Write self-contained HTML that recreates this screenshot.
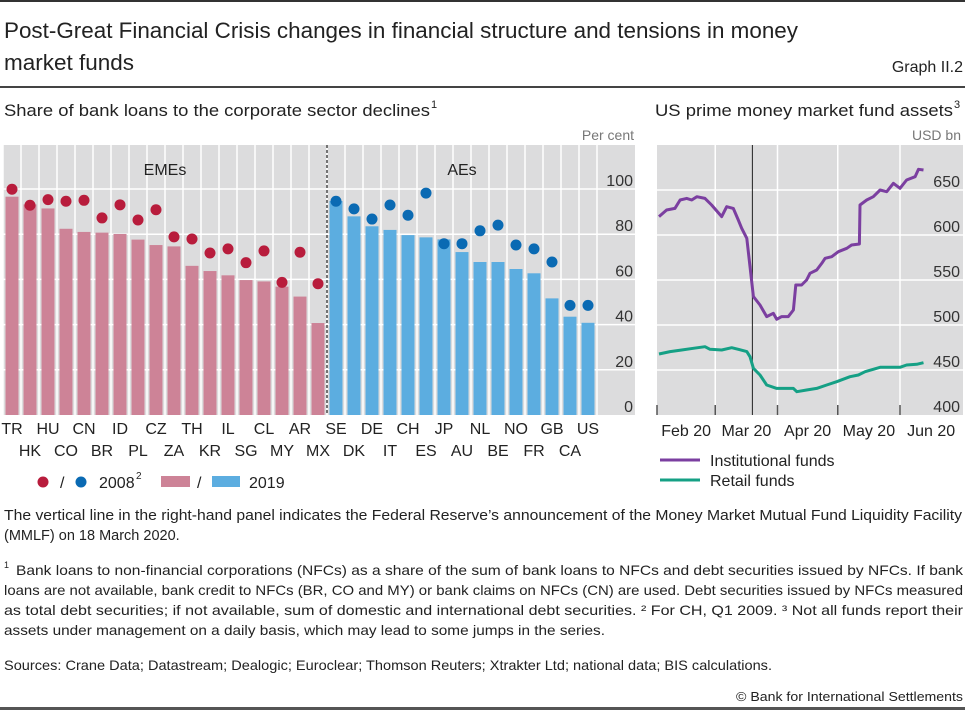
<!DOCTYPE html>
<html><head><meta charset="utf-8"><style>
body{margin:0;background:#fff;}
svg{display:block;font-family:"Liberation Sans",sans-serif;}
</style></head><body>
<svg id="s" width="965" height="711" viewBox="0 0 965 711" xmlns="http://www.w3.org/2000/svg">
<rect x="0" y="0" width="965" height="2" fill="#333"/>
<text x="4" y="38" font-size="22" fill="#222" textLength="794" lengthAdjust="spacingAndGlyphs">Post-Great Financial Crisis changes in financial structure and tensions in money</text>
<text x="4" y="70" font-size="22" fill="#222" textLength="130" lengthAdjust="spacingAndGlyphs">market funds</text>
<text x="963" y="72" font-size="16" fill="#222" text-anchor="end">Graph II.2</text>
<rect x="0" y="86" width="965" height="2" fill="#444"/>
<text x="4" y="116" font-size="17" fill="#222" textLength="426" lengthAdjust="spacingAndGlyphs">Share of bank loans to the corporate sector declines</text>
<text x="431" y="108" font-size="11" fill="#222">1</text>
<text x="655" y="116" font-size="17" fill="#222" textLength="298" lengthAdjust="spacingAndGlyphs">US prime money market fund assets</text>
<text x="954" y="108" font-size="11" fill="#222">3</text>
<text x="634" y="140" font-size="14" fill="#777" text-anchor="end">Per cent</text>
<text x="961" y="140" font-size="14" fill="#777" text-anchor="end">USD bn</text>
<g id="left"></g>
<g id="right"></g>
<g>
<circle cx="43" cy="482" r="5.5" fill="#b81c3c"/>
<text x="60" y="488" font-size="16" fill="#222">/</text>
<circle cx="81" cy="482" r="5.5" fill="#0a6ab3"/>
<text x="99" y="488" font-size="16" fill="#222">2008</text>
<text x="136" y="479" font-size="10" fill="#222">2</text>
<rect x="161" y="476" width="29" height="11" fill="#cd8397"/>
<text x="197" y="488" font-size="16" fill="#222">/</text>
<rect x="212" y="476" width="28" height="11" fill="#5cade0"/>
<text x="249" y="488" font-size="16" fill="#222">2019</text>
</g>
<g>
<line x1="660" y1="460" x2="700" y2="460" stroke="#7b3fa0" stroke-width="3"/>
<text x="710" y="466" font-size="16" fill="#222">Institutional funds</text>
<line x1="660" y1="480" x2="700" y2="480" stroke="#15a085" stroke-width="3"/>
<text x="710" y="486" font-size="16" fill="#222">Retail funds</text>
</g>
<g font-size="14.5" fill="#222">
<text x="4" y="520" textLength="958" lengthAdjust="spacingAndGlyphs">The vertical line in the right-hand panel indicates the Federal Reserve’s announcement of the Money Market Mutual Fund Liquidity Facility</text>
<text x="4" y="540">(MMLF) on 18 March 2020.</text>
</g>
<g font-size="14" fill="#222">
<text x="4" y="568" font-size="9">1</text>
<text x="16" y="575" textLength="947" lengthAdjust="spacingAndGlyphs">Bank loans to non-financial corporations (NFCs) as a share of the sum of bank loans to NFCs and debt securities issued by NFCs. If bank</text>
<text x="4" y="595" textLength="959" lengthAdjust="spacingAndGlyphs">loans are not available, bank credit to NFCs (BR, CO and MY) or bank claims on NFCs (CN) are used. Debt securities issued by NFCs measured</text>
<text x="4" y="615" textLength="959" lengthAdjust="spacingAndGlyphs">as total debt securities; if not available, sum of domestic and international debt securities.    ²  For CH, Q1 2009.    ³  Not all funds report their</text>
<text x="4" y="635" textLength="601" lengthAdjust="spacingAndGlyphs">assets under management on a daily basis, which may lead to some jumps in the series.</text>
<text x="4" y="670" textLength="768" lengthAdjust="spacingAndGlyphs">Sources: Crane Data; Datastream; Dealogic; Euroclear; Thomson Reuters; Xtrakter Ltd; national data; BIS calculations.</text>
<text x="963" y="701" text-anchor="end" font-size="13" textLength="227" lengthAdjust="spacingAndGlyphs">© Bank for International Settlements</text>
</g>
<rect x="0" y="707" width="965" height="3" fill="#555"/>
</svg>
<script>
const emeCats=["TR","HK","HU","CO","CN","BR","ID","PL","CZ","ZA","TH","KR","IL","SG","CL","MY","AR","MX"];
const eme2019=[96.6,93.2,91.4,82.4,81,80.7,80.1,77.6,75.2,74.6,66,63.7,61.8,59.7,59.1,56.8,52.4,40.7];
const eme2008=[99.9,92.8,95.3,94.6,95,87.2,93,86.3,90.8,78.8,77.9,71.7,73.5,67.4,72.6,58.7,72,58.1];
const aeCats=["SE","DK","DE","IT","CH","ES","JP","AU","NL","BE","NO","FR","GB","CA","US"];
const ae2019=[94.7,87.9,83.5,81.9,79.6,78.6,77.7,72.1,67.7,67.7,64.6,62.7,51.6,43.5,40.8];
const ae2008=[94.6,91.2,86.7,92.9,88.4,98.2,75.8,75.8,81.5,84,75.2,73.5,67.7,48.5,48.5];
const leftTicks=[0,20,40,60,80,100];
const instDays=[1,4.8,8.9,11.5,14.8,17.3,19.8,23.9,27.2,32.2,34.7,38,40.5,42.2,44.7,48,51.3,54.6,57.9,59.6,62.1,65.4,67.9,69.1,72,74.5,76.2,79.5,82,83.7,87,90.3,94.5,96.9,100.8,101.1,104.4,107.7,111.1,114.4,117.7,121,124.3,128.5,130.2,132.7];
const instVals=[620.4,627.8,629.6,638.9,640.7,638.9,642.6,640.7,633.3,620.4,631.5,629.6,616.7,607.4,596.3,531.5,522.2,509.3,513,506.3,509.3,509.3,516.7,544.4,544.4,550,557.4,561.1,568.5,574.1,575.9,581.5,585.2,588.9,590,633.3,638.9,642.6,650,648.1,657.4,651.9,661.1,664.8,673,672.2];
const retDays=[1,6.5,12.3,18.1,23.9,26.4,32.2,37.2,40.5,44.7,46.3,48,51.3,54.6,59.6,67.9,69.6,74.5,79.5,84.5,89.5,96.1,100.3,103.6,111.1,121,124.3,129.3,132.7];
const retVals=[467.8,470.4,472.2,474.1,475.9,473,472.2,474.8,473,470.4,464.8,451.9,444.4,433.3,429.6,429.6,425.9,427.8,429.6,433.3,437,442.6,444.4,448.1,453,453,455.6,456.3,458.1];
const rightTicks=[400,450,500,550,600,650];
const monthLabels=["Feb 20","Mar 20","Apr 20","May 20","Jun 20"];
const monthStarts=[0,29,60,90,121,152];
const eventDay=46;

const NS="http://www.w3.org/2000/svg";
function mk(p,t,a){const e=document.createElementNS(NS,t);for(const k in a)e.setAttribute(k,a[k]);p.appendChild(e);return e;}
const L=document.getElementById('left');
const ly=v=>415-v*2.26;
const slot=18,lx0=3;
let bg=mk(L,'rect',{x:3,y:145,width:632,height:270,fill:'#dcdcdd'});


leftTicks.forEach(t=>{
 if(t>0){const g=mk(L,'line',{x1:3,x2:635,y1:ly(t),y2:ly(t),stroke:'#fff','stroke-width':1.5});
 
 }
 const tx=mk(L,'text',{x:633,y:ly(t)-3,'font-size':16,fill:'#333','text-anchor':'end'});tx.textContent=t;
 
 
});
const nAll=emeCats.length+aeCats.length;
for(let i=0;i<=nAll;i++){const g=mk(L,'line',{x1:lx0+i*slot,x2:lx0+i*slot,y1:145,y2:415,stroke:'#fff','stroke-width':1.5});
 
 }
function group(cats,v19,v08,off,barCol,dotCol){
 cats.forEach((c,i)=>{
  const cx=lx0+(off+i)*slot+9;
  const b=mk(L,'rect',{x:cx-6.5,y:ly(v19[i]),width:13,height:415-ly(v19[i]),fill:barCol});
  
  
  const d=mk(L,'circle',{cx:cx,cy:ly(v08[i]),r:5.5,fill:dotCol});
  
  
  const t=mk(L,'text',{x:cx,y:(off+i)%2===0?434:456,'font-size':16,fill:'#222','text-anchor':'middle'});t.textContent=c;
  
  
 });
}
group(emeCats,eme2019,eme2008,0,'#cd8397','#b81c3c');
group(aeCats,ae2019,ae2008,emeCats.length,'#5cade0','#0a6ab3');
const sep=lx0+emeCats.length*slot;
let dl=mk(L,'line',{x1:sep,x2:sep,y1:145,y2:415,stroke:'#222','stroke-width':1.2,'stroke-dasharray':'3,2'});


let t1=mk(L,'text',{x:lx0+emeCats.length*slot/2,y:175,'font-size':16,fill:'#222','text-anchor':'middle'});t1.textContent='EMEs';


let t2=mk(L,'text',{x:sep+aeCats.length*slot/2,y:175,'font-size':16,fill:'#222','text-anchor':'middle'});t2.textContent='AEs';



const R=document.getElementById('right');
const rx=d=>657+d*(243/121);
const ry=v=>415-(v-400)*0.9;
let rb=mk(R,'rect',{x:657,y:145,width:306,height:270,fill:'#dcdcdd'});


rightTicks.forEach(t=>{
 if(t>400){const g=mk(R,'line',{x1:657,x2:963,y1:ry(t),y2:ry(t),stroke:'#fff','stroke-width':1.5});
 
 }
 const tx=mk(R,'text',{x:960,y:ry(t)-3,'font-size':16,fill:'#333','text-anchor':'end'});tx.textContent=t;
 
 
});
monthStarts.slice(0,5).forEach((d,i)=>{
 if(i>0){const g=mk(R,'line',{x1:rx(d),x2:rx(d),y1:145,y2:415,stroke:'#fff','stroke-width':1.5});
 
 }
 const tk=mk(R,'line',{x1:rx(d),x2:rx(d),y1:405,y2:415,stroke:'#555','stroke-width':1.5});
 
 
 const lb=mk(R,'text',{x:(rx(d)+rx(monthStarts[i+1]))/2,y:436,'font-size':16,fill:'#222','text-anchor':'middle'});lb.textContent=monthLabels[i];
 
 
});
let ev=mk(R,'line',{x1:rx(eventDay)+3,x2:rx(eventDay)+3,y1:145,y2:415,stroke:'#222','stroke-width':1});


function path(days,vals,col,name){
 const d=days.map((x,i)=>(i?'L':'M')+rx(x).toFixed(1)+','+ry(vals[i]).toFixed(1)).join('');
 const p=mk(R,'path',{d:d,fill:'none',stroke:col,'stroke-width':3,'stroke-linejoin':'round'});
 
 
}
path(instDays,instVals,'#7b3fa0','institutional-funds-line');
path(retDays,retVals,'#15a085','retail-funds-line');
</script>
</body></html>
